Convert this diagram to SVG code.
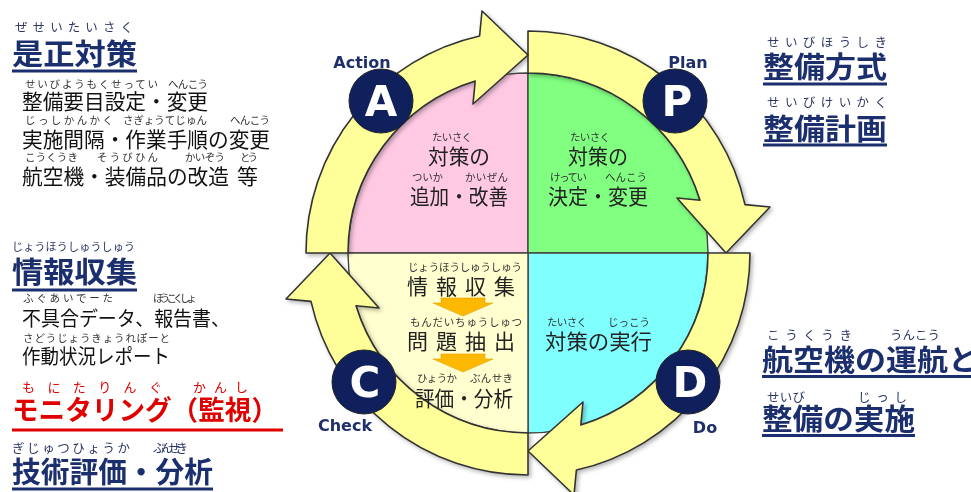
<svg xmlns="http://www.w3.org/2000/svg" width="971" height="492" viewBox="0 0 971 492">
<style>
text{font-family:'Noto Sans CJK JP','Noto Sans CJK SC',sans-serif}
.rb{font-size:10.5px;fill:#333}
.rh{font-size:12.5px;fill:#2a3564}
.rr{font-size:13px;fill:#e00000}
.q{font-size:21px;fill:#222}
.b{font-size:21px;fill:#111}
.h{font-size:29px;font-weight:700;fill:#1b2f6e}
.hr{font-size:27px;font-weight:700;fill:#e00000}
.lbl{font-family:'DejaVu Sans',sans-serif;font-size:16px;font-weight:700;fill:#1f2f6a}
.ltr{font-family:'DejaVu Sans',sans-serif;font-size:42px;font-weight:700;fill:#fff}
.ul{stroke:#1b2f6e;stroke-width:3}
.ring{fill:#ffff99;stroke:#333;stroke-width:1.6;stroke-linejoin:round}
.quad{stroke:#444;stroke-width:1.4}
.node{fill:#0f205c;stroke:#222;stroke-width:1}
.oa{fill:#ffb800;stroke:#e6a000;stroke-width:0.6}
</style>
<defs>
<filter id="sh" x="-10%" y="-10%" width="120%" height="120%">
<feDropShadow dx="2" dy="2" stdDeviation="2" flood-color="#000" flood-opacity="0.3"/>
</filter>
<path id="arr" d="M 528,31 A 222,222 0 0 1 745,204.6 L 770,207 L 726,253 L 677,198 L 700,200.2 A 180,180 0 0 0 528,73 Z"/>
</defs>
<rect width="971" height="492" fill="#fff"/>

<g id="quadrants">
<path class="quad" d="M528,253 L528,73 A180,180 0 0 0 348,253 Z" fill="#ffc9e4"/>
<path class="quad" d="M528,253 L528,73 A180,180 0 0 1 708,253 Z" fill="#80ff80"/>
<path class="quad" d="M528,253 L708,253 A180,180 0 0 1 528,433 Z" fill="#80ffff"/>
<path class="quad" d="M528,253 L528,433 A180,180 0 0 1 348,253 Z" fill="#ffffd0"/>
</g>

<g id="connectors" filter="url(#sh)">
<use href="#arr" class="ring"/>
<use href="#arr" class="ring" transform="rotate(90 528 253)"/>
<use href="#arr" class="ring" transform="rotate(180 528 253)"/>
<use href="#arr" class="ring" transform="rotate(270 528 253)"/>
</g>

<g id="node-A">
<text class="lbl" x="362" y="68" text-anchor="middle">Action</text>
<circle class="node" cx="381" cy="101" r="32"/>
<text class="ltr" x="381" y="116" text-anchor="middle">A</text>
</g>
<g id="node-P">
<text class="lbl" x="688" y="68" text-anchor="middle">Plan</text>
<circle class="node" cx="675" cy="101" r="32"/>
<text class="ltr" x="677" y="116" text-anchor="middle">P</text>
</g>
<g id="node-C">
<circle class="node" cx="364" cy="382" r="32"/>
<text class="ltr" x="365" y="397" text-anchor="middle">C</text>
<text class="lbl" x="345" y="431" text-anchor="middle">Check</text>
</g>
<g id="node-D">
<circle class="node" cx="688" cy="382" r="32"/>
<text class="ltr" x="690" y="397" text-anchor="middle">D</text>
<text class="lbl" x="705" y="433" text-anchor="middle">Do</text>
</g>

<g id="quad-action">
<text class="rb" x="432" y="141" textLength="40" lengthAdjust="spacing">たいさく</text>
<text class="q" x="428" y="163.5" textLength="62" lengthAdjust="spacingAndGlyphs">対策の</text>
<text class="rb" x="412" y="181" textLength="31" lengthAdjust="spacing">ついか</text>
<text class="rb" x="465" y="181" textLength="43" lengthAdjust="spacing">かいぜん</text>
<text class="q" x="410" y="203.5" textLength="98" lengthAdjust="spacingAndGlyphs">追加・改善</text>
</g>
<g id="quad-plan">
<text class="rb" x="570" y="141" textLength="40" lengthAdjust="spacing">たいさく</text>
<text class="q" x="568" y="163.5" textLength="60" lengthAdjust="spacingAndGlyphs">対策の</text>
<text class="rb" x="550" y="181" textLength="37" lengthAdjust="spacing">けってい</text>
<text class="rb" x="605" y="181" textLength="42" lengthAdjust="spacing">へんこう</text>
<text class="q" x="548" y="203.5" textLength="100" lengthAdjust="spacingAndGlyphs">決定・変更</text>
</g>
<g id="quad-check">
<text class="rb" x="408" y="271" textLength="114" lengthAdjust="spacing">じょうほうしゅうしゅう</text>
<text class="q" x="407" y="293.5" textLength="108" lengthAdjust="spacing">情報収集</text>
<polygon class="oa" points="441,298 485,298 485,303 493,303 463,316 433,303 441,303"/>
<text class="rb" x="410" y="326" textLength="112" lengthAdjust="spacing">もんだいちゅうしゅつ</text>
<text class="q" x="407" y="348.5" textLength="108" lengthAdjust="spacing">問題抽出</text>
<polygon class="oa" points="441,354 485,354 485,359 493,359 463,372 433,359 441,359"/>
<text class="rb" x="417" y="382" textLength="40" lengthAdjust="spacing">ひょうか</text>
<text class="rb" x="470" y="382" textLength="43" lengthAdjust="spacing">ぶんせき</text>
<text class="q" x="415" y="405.5" textLength="98" lengthAdjust="spacingAndGlyphs">評価・分析</text>
</g>
<g id="quad-do">
<text class="rb" x="547" y="326" textLength="40" lengthAdjust="spacing">たいさく</text>
<text class="rb" x="608" y="326" textLength="42" lengthAdjust="spacing">じっこう</text>
<text class="q" x="545" y="348.5" textLength="107" lengthAdjust="spacingAndGlyphs">対策の実行</text>
</g>

<g id="left-corrective">
<text class="rh" x="15" y="32" textLength="118" lengthAdjust="spacing">ぜせいたいさく</text>
<text class="h" x="12" y="65" textLength="125" lengthAdjust="spacingAndGlyphs">是正対策</text>
<line class="ul" x1="12" y1="71" x2="137" y2="71"/>
<text class="rb" x="25" y="88" textLength="133" lengthAdjust="spacing">せいびようもくせってい</text>
<text class="rb" x="168" y="88" textLength="40" lengthAdjust="spacing">へんこう</text>
<text class="b" x="22" y="108.5" textLength="186" lengthAdjust="spacingAndGlyphs">整備要目設定・変更</text>
<text class="rb" x="25" y="124" textLength="88" lengthAdjust="spacing">じっしかんかく</text>
<text class="rb" x="123" y="124" textLength="84" lengthAdjust="spacing">さぎょうてじゅん</text>
<text class="rb" x="230" y="124" textLength="40" lengthAdjust="spacing">へんこう</text>
<text class="b" x="22" y="146.5" textLength="248" lengthAdjust="spacingAndGlyphs">実施間隔・作業手順の変更</text>
<text class="rb" x="25" y="161" textLength="53" lengthAdjust="spacing">こうくうき</text>
<text class="rb" x="97" y="161" textLength="61" lengthAdjust="spacing">そうびひん</text>
<text class="rb" x="185" y="161" textLength="40" lengthAdjust="spacing">かいぞう</text>
<text class="rb" x="240" y="161" textLength="18" lengthAdjust="spacing">とう</text>
<text class="b" x="22" y="183.5" textLength="207" lengthAdjust="spacingAndGlyphs">航空機・装備品の改造</text>
<text class="b" x="237" y="183.5">等</text>
</g>

<g id="left-info">
<text class="rh" x="12" y="251" textLength="123" lengthAdjust="spacing" style="font-size:11px">じょうほうしゅうしゅう</text>
<text class="h" x="12" y="283" textLength="125" lengthAdjust="spacingAndGlyphs">情報収集</text>
<line class="ul" x1="12" y1="290" x2="137" y2="290"/>
<text class="rb" x="23" y="302" textLength="90" lengthAdjust="spacing">ふぐあいでーた</text>
<text class="rb" x="153" y="302" textLength="44" lengthAdjust="spacing">ほうこくしょ</text>
<text class="b" x="22" y="325.5" textLength="208" lengthAdjust="spacingAndGlyphs" style="font-size:20px">不具合データ、報告書、</text>
<text class="rb" x="23" y="342" textLength="147" lengthAdjust="spacing">さどうじょうきょうれぽーと</text>
<text class="b" x="22" y="363.5" textLength="148" lengthAdjust="spacingAndGlyphs" style="font-size:20px">作動状況レポート</text>
</g>

<g id="left-monitoring">
<text class="rr" x="22" y="392" textLength="140" lengthAdjust="spacing">もにたりんぐ</text>
<text class="rr" x="193" y="392" textLength="55" lengthAdjust="spacing">かんし</text>
<text class="hr" x="12" y="420" textLength="266" lengthAdjust="spacingAndGlyphs">モニタリング（監視）</text>
<line x1="12" y1="430" x2="283" y2="430" stroke="#e00000" stroke-width="3"/>
<text class="rh" x="12" y="453" textLength="118" lengthAdjust="spacing">ぎじゅつひょうか</text>
<text class="rh" x="153" y="453" textLength="35" lengthAdjust="spacing">ぶんせき</text>
<text class="h" x="12" y="483" textLength="201" lengthAdjust="spacingAndGlyphs">技術評価・分析</text>
<line class="ul" x1="12" y1="489" x2="213" y2="489"/>
</g>

<g id="right-plan">
<text class="rh" x="767" y="47" textLength="120" lengthAdjust="spacing">せいびほうしき</text>
<text class="h" x="763" y="78" textLength="124" lengthAdjust="spacingAndGlyphs">整備方式</text>
<line class="ul" x1="763" y1="84" x2="887" y2="84"/>
<text class="rh" x="767" y="107" textLength="120" lengthAdjust="spacing">せいびけいかく</text>
<text class="h" x="763" y="140" textLength="124" lengthAdjust="spacingAndGlyphs">整備計画</text>
<line class="ul" x1="763" y1="145" x2="887" y2="145"/>
</g>

<g id="right-do">
<text class="rh" x="767" y="340" textLength="85" lengthAdjust="spacing">こうくうき</text>
<text class="rh" x="890" y="340" textLength="50" lengthAdjust="spacing">うんこう</text>
<text class="h" x="762" y="371" textLength="217" lengthAdjust="spacingAndGlyphs">航空機の運航と</text>
<line class="ul" x1="762" y1="376.5" x2="971" y2="376.5"/>
<text class="rh" x="767" y="402" textLength="38" lengthAdjust="spacing">せいび</text>
<text class="rh" x="858" y="402" textLength="49" lengthAdjust="spacing">じっし</text>
<text class="h" x="762" y="430" textLength="153" lengthAdjust="spacingAndGlyphs">整備の実施</text>
<line class="ul" x1="762" y1="435.5" x2="915" y2="435.5"/>
</g>
</svg>
